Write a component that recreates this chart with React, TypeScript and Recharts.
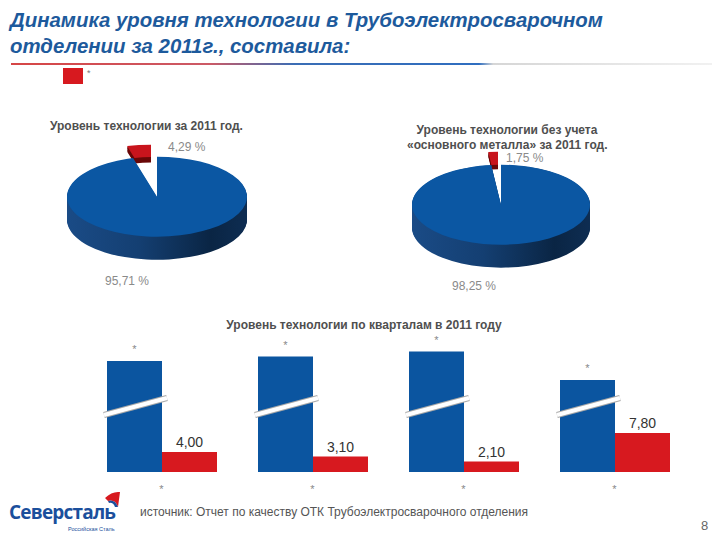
import React from 'react';
import { PieChart, Pie, Cell, BarChart, Bar, XAxis, YAxis, LabelList } from 'recharts';

// ---- data ----
const pieNames = ['Основная часть', 'Уровень технологии'];
const pie1Values = [95.71, 4.29];
const pie2Values = [98.25, 1.75];

const quarterKeys = ['I кв.', 'II кв.', 'III кв.', 'IV кв.'];
const quarterTicks = ['*', '*', '*', '*'];
const blueValues = [96.0, 96.9, 97.9, 92.2]; // hidden values, shown as "*"
const redValues = [4.0, 3.1, 2.1, 7.8];
const AXIS_BREAK = 73.8; // part of the value scale cut out by the axis break
const BREAK_MARK_AT = 13.2; // where the break mark sits (plotted units)

const barData = quarterKeys.map((q, i) => ({
  q,
  blue: blueValues[i] - AXIS_BREAK,
  red: redValues[i],
}));

const FONT = '"Liberation Sans", Arial, sans-serif';
const fmt = (v: number) => v.toFixed(2).replace('.', ',');

const BLUE_TOP = '#0b57a3';
const RED_TOP = '#c8141c';
const RED_SIDE = '#6a0808';

type Pie3DProps = {
  values: number[];
  centerX: number;
  centerY: number;
  rx: number;
  ry: number;
  depth: number;
  explodeX: number;
  explodeY: number;
  redInner: number;
  redDepth: number;
};

function Pie3D(p: Pie3DProps) {
  const k = p.ry / p.rx;
  const R = p.rx;
  const pad = 6;
  const size = R * 2 + pad * 2;
  const cx = R + pad;
  const cy = R + pad + p.explodeY;
  const depthU = p.depth / k;
  const H = Math.ceil(cy + R + depthU + pad);
  const data = p.values.map((v, i) => ({ name: pieNames[i], value: v }));
  const layers: number[] = [];
  for (let d = Math.round(depthU); d >= 1; d -= 2) layers.push(d);
  const redLayers: number[] = [];
  for (let d = p.redDepth; d >= 1; d -= 2) redLayers.push(d);
  const common = {
    data,
    dataKey: 'value',
    startAngle: 90,
    endAngle: -270,
    stroke: 'none',
    isAnimationActive: false,
    outerRadius: R,
  };
  return (
    <div
      style={{
        position: 'absolute',
        left: p.centerX - cx,
        top: p.centerY - cy * k,
        width: size,
        height: H,
        transform: `scaleY(${k})`,
        transformOrigin: '0 0',
      }}
    >
      <PieChart width={size} height={H} margin={{ top: 0, right: 0, bottom: 0, left: 0 }}>
        {redLayers.map((d) => (
          <Pie
            key={`rs${d}`}
            {...common}
            innerRadius={p.redInner}
            cx={cx - p.explodeX}
            cy={cy - p.explodeY + d}
          >
            <Cell fill="transparent" />
            <Cell fill={RED_SIDE} />
          </Pie>
        ))}
        <Pie key="rt" {...common} innerRadius={p.redInner} cx={cx - p.explodeX} cy={cy - p.explodeY}>
          <Cell fill="transparent" />
          <Cell fill={RED_TOP} />
        </Pie>
        {layers.map((d) => (
          <Pie key={`bs${d}`} {...common} cx={cx} cy={cy + d}>
            <Cell fill="url(#pieSideGrad)" />
            <Cell fill="transparent" />
          </Pie>
        ))}
        <Pie key="bt" {...common} cx={cx} cy={cy}>
          <Cell fill={BLUE_TOP} />
          <Cell fill="transparent" />
        </Pie>
      </PieChart>
    </div>
  );
}

const BrokenBar = (props: any) => {
  const { x, y, width, height, fill, payload } = props;
  if (!height || height <= 0) return null;
  const bottom = y + height;
  const pxPer = height / payload.blue;
  const by = bottom - BREAK_MARK_AT * pxPer;
  const x1 = x - 3;
  const x2 = x + width + 5;
  return (
    <g>
      <rect x={x} y={y} width={width} height={height} fill={fill} />
      <line x1={x1} y1={by + 9} x2={x2} y2={by - 8} stroke="#a8a8a8" strokeWidth={6} />
      <line x1={x1} y1={by + 9} x2={x2} y2={by - 8} stroke="#ffffff" strokeWidth={4} />
    </g>
  );
};

const txt = (style: React.CSSProperties, content: React.ReactNode) => (
  <div style={{ position: 'absolute', whiteSpace: 'nowrap', fontFamily: FONT, ...style }}>{content}</div>
);

export default function App() {
  return (
    <div style={{ position: 'relative', width: 720, height: 540, margin: -8, background: '#fff', overflow: 'hidden' }}>
      <svg width={0} height={0} style={{ position: 'absolute' }}>
        <defs>
          <linearGradient id="pieSideGrad" x1="0" y1="0" x2="1" y2="0">
            <stop offset="0%" stopColor="#1a4b86" />
            <stop offset="40%" stopColor="#143f72" />
            <stop offset="80%" stopColor="#0a2544" />
            <stop offset="100%" stopColor="#0e2d52" />
          </linearGradient>
        </defs>
      </svg>
      {/* Title */}
      {txt(
        { left: 10, top: 7, fontSize: 20.4, lineHeight: '26px', fontWeight: 'bold', fontStyle: 'italic', color: '#1d5a9c' },
        <>
          Динамика уровня технологии в Трубоэлектросварочном
          <br />
          отделении за 2011г., составила:
        </>
      )}
      <div
        style={{
          position: 'absolute',
          left: 11,
          top: 63,
          width: 709,
          height: 2,
          background:
            'linear-gradient(to right, #d64545 0%, #cc5a66 28%, #3a6db5 40%, #2f6ec0 66%, #d6d6d6 68%, #f2f2f2 100%)',
        }}
      />
      {/* legend */}
      <div style={{ position: 'absolute', left: 63, top: 68, width: 20, height: 16, background: '#d7191f' }} />
      {txt({ left: 87, top: 68, fontSize: 9, color: '#777' }, '*')}

      {/* Pie 1 */}
      {txt({ left: 50, top: 119, fontSize: 12, fontWeight: 'bold', color: '#4f4f4f' }, 'Уровень технологии  за 2011 год.')}
      <Pie3D
        values={pie1Values}
        centerX={157}
        centerY={197}
        rx={90}
        ry={40}
        depth={23}
        explodeX={6}
        explodeY={27}
        redInner={62}
        redDepth={12}
      />
      {txt({ left: 168, top: 140, fontSize: 12, color: '#8a8a8a' }, `${fmt(pie1Values[1])} %`)}
      {txt({ left: 105, top: 274, fontSize: 12, color: '#8a8a8a' }, `${fmt(pie1Values[0])} %`)}

      {/* Pie 2 */}
      {txt(
        { left: 407, top: 123, width: 200, textAlign: 'center', fontSize: 12, lineHeight: '15px', fontWeight: 'bold', color: '#4f4f4f' },
        <>
          Уровень технологии без учета
          <br />
          «основного металла» за 2011 год.
        </>
      )}
      <Pie3D
        values={pie2Values}
        centerX={501}
        centerY={205}
        rx={89}
        ry={40}
        depth={23}
        explodeX={3}
        explodeY={29}
        redInner={60}
        redDepth={10}
      />
      {txt({ left: 506, top: 152, fontSize: 12, lineHeight: '12px', color: '#8a8a8a' }, `${fmt(pie2Values[1])} %`)}
      {txt({ left: 452, top: 279, fontSize: 12, color: '#8a8a8a' }, `${fmt(pie2Values[0])} %`)}

      {/* Bar chart */}
      {txt(
        { left: 214, top: 318, width: 300, textAlign: 'center', fontSize: 12, fontWeight: 'bold', color: '#4f4f4f' },
        'Уровень технологии по кварталам в 2011 году'
      )}
      <div style={{ position: 'absolute', left: 86, top: 322 }}>
        <BarChart width={604} height={175} data={barData} margin={{ top: 0, right: 0, bottom: 0, left: 0 }} barGap={0}>
          <YAxis hide domain={[0, 30]} />
          <XAxis
            dataKey="q"
            height={25}
            axisLine={false}
            tickLine={false}
            tickMargin={7}
            tick={{ fill: '#888', fontSize: 11, fontFamily: FONT }}
            tickFormatter={(_v: any, i: number) => quarterTicks[i]}
          />
          <Bar dataKey="blue" fill="#0b55a0" barSize={55} isAnimationActive={false} shape={BrokenBar}>
            <LabelList
              dataKey="blue"
              position="top"
              offset={8}
              formatter={() => '*'}
              style={{ fill: '#888', fontSize: 11, fontFamily: FONT }}
            />
          </Bar>
          <Bar dataKey="red" fill="#d7191f" barSize={55} isAnimationActive={false}>
            <LabelList
              dataKey="red"
              position="top"
              offset={5}
              formatter={(v: any) => fmt(Number(v))}
              style={{ fill: '#333', fontSize: 14, fontFamily: FONT }}
            />
          </Bar>
        </BarChart>
      </div>

      {/* Footer */}
      {txt(
        { left: 9, top: 499, fontSize: 19, fontWeight: 'bold', color: '#1b4f9c', letterSpacing: -0.8, fontFamily: '"Open Sans", sans-serif' },
        'Северсталь'
      )}
      {txt({ left: 68, top: 526, fontSize: 5.5, color: '#1b4f9c' }, 'Российская Сталь')}
      <svg style={{ position: 'absolute', left: 102, top: 491 }} width={20} height={18} viewBox="0 0 20 18">
        <path d="M3 7 Q10 0 18 1 L16 16 Q13 8 6 10 Z" fill="#d7191f" />
        <path d="M6 10 Q13 8 16 16 L13 16 Q11 11 7 12 Z" fill="#1b4f9c" />
      </svg>
      {txt({ left: 140, top: 505, fontSize: 12, color: '#555' }, 'источник: Отчет по качеству ОТК Трубоэлектросварочного отделения')}
      {txt({ left: 701, top: 518, fontSize: 13, color: '#666' }, '8')}
    </div>
  );
}
